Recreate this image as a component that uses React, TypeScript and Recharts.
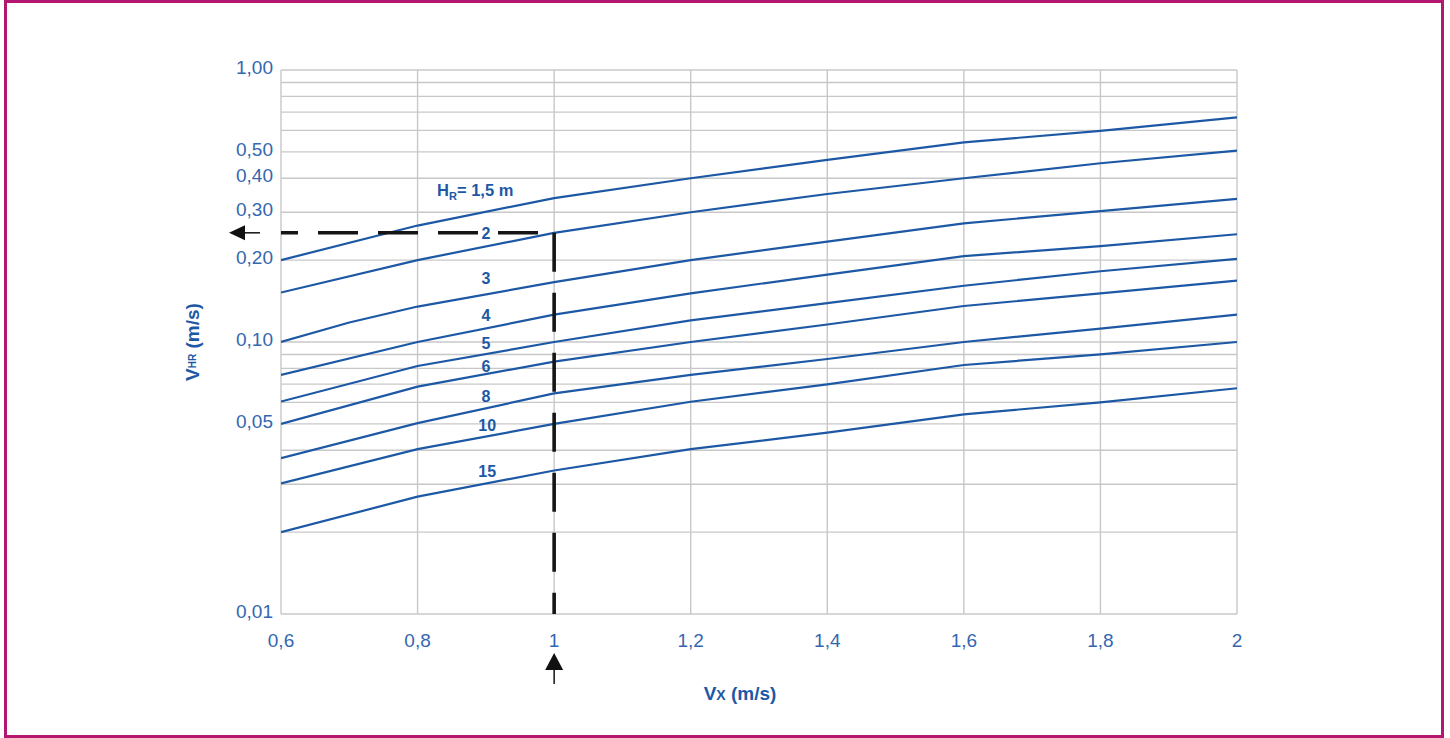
import React from 'react';
import { LineChart, Line, XAxis, YAxis, CartesianGrid, ReferenceDot } from 'recharts';

// ---- data ----
const vxTicks = [0.6, 0.8, 1, 1.2, 1.4, 1.6, 1.8, 2];
const vhrTicks = [0.01, 0.05, 0.1, 0.2, 0.3, 0.4, 0.5, 1];
const vhrGrid = [0.01, 0.02, 0.03, 0.04, 0.05, 0.06, 0.07, 0.08, 0.09, 0.1, 0.2, 0.3, 0.4, 0.5, 0.6, 0.7, 0.8, 0.9, 1];
const vxGrid = [0.6, 0.8, 1, 1.2, 1.4, 1.6, 1.8, 2];

const vx = [0.6, 0.8, 1.0, 1.2, 1.4, 1.6, 1.8, 2.0];
const vxH3 = [0.6, 0.7, 0.8, 1.0, 1.2, 1.4, 1.6, 1.8, 2.0];
const hr15 = [0.2, 0.268, 0.338, 0.4, 0.467, 0.542, 0.597, 0.67];
const hr2 = [0.152, 0.2, 0.252, 0.3, 0.35, 0.4, 0.454, 0.505];
const hr3 = [0.1, 0.118, 0.135, 0.166, 0.2, 0.234, 0.273, 0.303, 0.336];
const hr4 = [0.0757, 0.1, 0.126, 0.151, 0.177, 0.207, 0.225, 0.249];
const hr5 = [0.0604, 0.0816, 0.1, 0.12, 0.139, 0.161, 0.182, 0.202];
const hr6 = [0.05, 0.0685, 0.0847, 0.1, 0.116, 0.1356, 0.151, 0.168];
const hr8 = [0.0374, 0.0503, 0.0647, 0.0757, 0.0866, 0.1, 0.112, 0.126];
const hr10 = [0.0302, 0.0404, 0.05, 0.0603, 0.0699, 0.0823, 0.09, 0.1];
const hr15m = [0.02, 0.027, 0.0337, 0.0404, 0.0464, 0.0542, 0.06, 0.0676];

const curveLabels = ['2', '3', '4', '5', '6', '8', '10', '15'];
const curveLabelX = [0.9, 0.9, 0.9, 0.9, 0.9, 0.9, 0.902, 0.902];
const curveLabelY = [0.251, 0.1715, 0.1257, 0.0989, 0.0811, 0.0629, 0.0495, 0.0334];
const hrTitleX = 0.8285;
const hrTitleY = 0.36;

// reading example: Vx = 1 -> VHR
const readX = [0.6, 1.0];
const readY = 0.252;
const readYBottom = 0.01;

const BLUE = '#1d58a5';
const TICK_BLUE = '#3467b0';
const GRID = '#c8c8c8';
const FONT = '"Liberation Sans", Arial, Helvetica, sans-serif';

const toPts = (xs: number[], ys: number[]) => xs.map((x, i) => ({ x, y: ys[i] }));

const series = [
  { id: 'h15', data: toPts(vx, hr15) },
  { id: 'h2', data: toPts(vx, hr2) },
  { id: 'h3', data: toPts(vxH3, hr3) },
  { id: 'h4', data: toPts(vx, hr4) },
  { id: 'h5', data: toPts(vx, hr5) },
  { id: 'h6', data: toPts(vx, hr6) },
  { id: 'h8', data: toPts(vx, hr8) },
  { id: 'h10', data: toPts(vx, hr10) },
  { id: 'h15m', data: toPts(vx, hr15m) },
];

const readH = readX.map((x) => ({ x, y: readY }));
const readV = [{ x: readX[1], y: readY }, { x: readX[1], y: readYBottom }];

const fmtX = (v: number) => String(Math.round(v * 10) / 10).replace('.', ',');
const fmtY = (v: number) => v.toFixed(2).replace('.', ',');

const XTick = (p: any) => (
  <text x={p.x} y={p.y} dy={27} textAnchor="middle" fill={TICK_BLUE} fontSize={19} fontFamily={FONT}>
    {fmtX(p.payload.value)}
  </text>
);
const YTick = (p: any) => (
  <text x={p.x} y={p.y} dy={4} textAnchor="end" fill={TICK_BLUE} fontSize={19} fontFamily={FONT}>
    {fmtY(p.payload.value)}
  </text>
);

const YTitle = (p: any) => {
  const vb = p.viewBox || { x: 221, y: 70, width: 60, height: 544 };
  const cx = vb.x - 29;
  const cy = vb.y + vb.height / 2;
  return (
    <text
      x={cx + 7}
      y={cy}
      transform={`rotate(-90 ${cx + 7} ${cy})`}
      textAnchor="middle"
      fill={BLUE}
      fontSize={19}
      fontWeight="bold"
      fontFamily={FONT}
    >
      <tspan>V</tspan>
      <tspan fontSize={10} dy={-3}>HR</tspan>
      <tspan dy={3}> (m/s)</tspan>
    </text>
  );
};

const XTitle = (p: any) => {
  const vb = p.viewBox || { x: 281, y: 614, width: 956, height: 30 };
  const cx = vb.x + vb.width / 2 - 19;
  return (
    <text x={cx} y={vb.y + 86} textAnchor="middle" fill={BLUE} fontSize={19} fontWeight="bold" fontFamily={FONT}>
      <tspan>V</tspan>
      <tspan fontSize={14}>X</tspan>
      <tspan> (m/s)</tspan>
    </text>
  );
};

const LeftArrow = (p: any) => {
  const { cx, cy } = p;
  return (
    <g>
      <path d={`M${cx - 52},${cy} L${cx - 36},${cy - 7.5} L${cx - 36},${cy + 7.5} Z`} fill="#111" />
      <line x1={cx - 37} y1={cy} x2={cx - 21} y2={cy} stroke="#111" strokeWidth={1.5} />
    </g>
  );
};

const UpArrow = (p: any) => {
  const { cx, cy } = p;
  return (
    <g>
      <path d={`M${cx},${cy + 39} L${cx - 9},${cy + 56} L${cx + 9},${cy + 56} Z`} fill="#111" />
      <line x1={cx} y1={cy + 55} x2={cx} y2={cy + 70} stroke="#111" strokeWidth={1.5} />
    </g>
  );
};

export default function App() {
  return (
    <div style={{ position: 'absolute', left: 0, top: 0, width: 1450, height: 738, background: '#fff' }}>
      <div
        style={{
          position: 'absolute',
          left: 4,
          top: 0,
          width: 1440,
          height: 738,
          border: '3px solid #b3176f',
          boxSizing: 'border-box',
        }}
      />
      <div style={{ position: 'absolute', left: 0, top: 0 }}>
        <LineChart width={1450} height={738} margin={{ top: 70, right: 213, bottom: 94, left: 221 }}>
          <CartesianGrid
            horizontalValues={vhrGrid}
            verticalValues={vxGrid}
            stroke={GRID}
            strokeWidth={1.4}
          />
          <XAxis
            type="number"
            dataKey="x"
            domain={[0.6, 2]}
            ticks={vxTicks}
            allowDataOverflow
            axisLine={false}
            tickLine={false}
            tickMargin={0}
            height={30}
            tick={<XTick />}
            interval={0}
            label={<XTitle />}
          />
          <YAxis
            type="number"
            dataKey="y"
            scale="log"
            domain={[0.01, 1]}
            ticks={vhrTicks}
            allowDataOverflow
            axisLine={false}
            tickLine={false}
            tickMargin={2}
            width={60}
            tick={<YTick />}
            interval={0}
            label={<YTitle />}
          />
          {series.map((s) => (
            <Line
              key={s.id}
              data={s.data}
              dataKey="y"
              type="linear"
              stroke={BLUE}
              strokeWidth={2.2}
              dot={false}
              activeDot={false}
              isAnimationActive={false}
            />
          ))}
          <Line
            data={readH}
            dataKey="y"
            type="linear"
            stroke="#151515"
            strokeWidth={3.6}
            strokeDasharray="40 20"
            strokeDashoffset={23}
            dot={false}
            activeDot={false}
            isAnimationActive={false}
          />
          <Line
            data={readV}
            dataKey="y"
            type="linear"
            stroke="#151515"
            strokeWidth={3.6}
            strokeDasharray="39 21"
            dot={false}
            activeDot={false}
            isAnimationActive={false}
          />
          <ReferenceDot x={readX[0]} y={readY} r={0} ifOverflow="visible" shape={<LeftArrow />} />
          <ReferenceDot x={readX[1]} y={readYBottom} r={0} ifOverflow="visible" shape={<UpArrow />} />
          <ReferenceDot
            x={hrTitleX}
            y={hrTitleY}
            r={0}
            ifOverflow="visible"
            shape={(p: any) => (
              <text x={p.cx} y={p.cy} dy="0.35em" textAnchor="start" fill={BLUE} fontSize={16.5} fontWeight="bold" fontFamily={FONT}>
                <tspan>H</tspan>
                <tspan fontSize={11} dy={4}>R</tspan>
                <tspan dy={-4}>= 1,5 m</tspan>
              </text>
            )}
          />
          {curveLabels.map((t, i) => (
            <ReferenceDot
              key={t}
              x={curveLabelX[i]}
              y={curveLabelY[i]}
              r={0}
              ifOverflow="visible"
              shape={(p: any) => (
                <text x={p.cx} y={p.cy} dy="0.35em" textAnchor="middle" fill={BLUE} fontSize={16} fontWeight="bold" fontFamily={FONT}>
                  {t}
                </text>
              )}
            />
          ))}
        </LineChart>
      </div>
    </div>
  );
}
